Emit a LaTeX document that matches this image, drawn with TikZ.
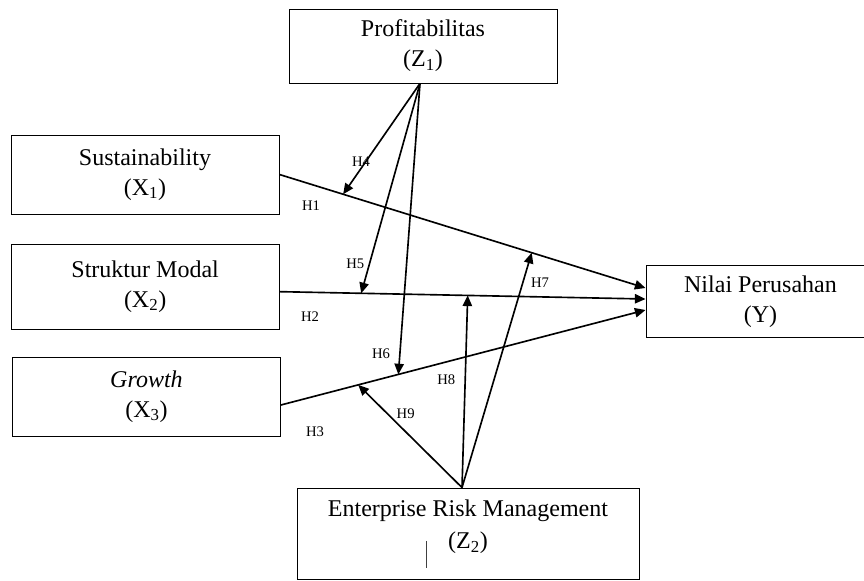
\documentclass[tikz,border=0pt]{standalone}
\usepackage{fontspec}
\setmainfont{Liberation Serif}
\usetikzlibrary{arrows.meta}

\begin{document}
\begin{tikzpicture}[
    box/.style={rectangle, draw, line width=0.75pt, align=center, inner sep=0pt, font=\fontsize{20.5}{25.5}\selectfont},
    hyp/.style={inner sep=0pt, font=\fontsize{12.5}{14}\selectfont},
    arr/.style={-{Triangle[length=3.2mm,width=2.8mm]}, line width=1.4pt}
  ]
  \useasboundingbox (0,0) rectangle (25.92,17.4);
  % Nodes
  \node[box, minimum width=8.04cm, minimum height=2.22cm] (z1) at (12.69,16.02) {Profitabilitas\\(Z\textsubscript{1})};
  \node[box, minimum width=8.04cm, minimum height=2.37cm] (x1) at (4.35,12.165) {Sustainability\\(X\textsubscript{1})};
  \node[box, minimum width=8.04cm, minimum height=2.55cm] (x2) at (4.355,8.805) {Struktur Modal\\(X\textsubscript{2})};
  \node[box, minimum width=8.04cm, minimum height=2.37cm] (x3) at (4.395,5.505) {\textit{Growth}\\(X\textsubscript{3})};
  \node[box, minimum width=6.87cm, minimum height=2.14cm] (y) at (22.815,8.36) {Nilai Perusahan\\(Y)};
  \node[box, minimum width=10.26cm, minimum height=2.745cm] (z2) at (14.04,1.3875) {};
  \node[align=center, inner sep=0pt, font=\fontsize{20.5}{27.2}\selectfont] (z2text) at ([yshift=0.2cm]z2.center) {Enterprise Risk Management\\(Z\textsubscript{2})};
  \draw[line width=0.6pt, black!75] ([xshift=-1.26cm,yshift=-0.21cm]z2.center) -- ++(0,-0.82);
  % Direct effects
  \draw[arr] (x1.east) -- coordinate[pos=0.174] (h4end) coordinate[pos=0.689] (h7end) ([yshift=0.4cm]y.west);
  \draw[arr] ([yshift=-0.155cm]x2.east) -- coordinate[pos=0.223] (h5end) coordinate[pos=0.514] (h8end) ([yshift=0.07cm]y.west);
  \draw[arr] ([yshift=-0.255cm]x3.east) -- coordinate[pos=0.212] (h9end) coordinate[pos=0.322] (h6end) ([yshift=-0.26cm]y.west);
  % Moderation
  \coordinate (z1foot) at ([xshift=-0.09cm]z1.south);
  \coordinate (z2foot) at ([xshift=-0.18cm]z2.north);
  \draw[arr] (z1foot) -- (h4end);
  \draw[arr] (z1foot) -- (h5end);
  \draw[arr] (z1foot) -- (h6end);
  \draw[arr] (z2foot) -- (h7end);
  \draw[arr] (z2foot) -- (h8end);
  \draw[arr] (z2foot) -- (h9end);
  % Labels
  \node[hyp] (h1) at (9.33,11.24) {H1};
  \node[hyp] (h2) at (9.30,7.90) {H2};
  \node[hyp] (h3) at (9.45,4.44) {H3};
  \node[hyp] (h4) at (10.83,12.55) {H4};
  \node[hyp] (h5) at (10.66,9.50) {H5};
  \node[hyp] (h6) at (11.43,6.80) {H6};
  \node[hyp] (h7) at (16.20,8.92) {H7};
  \node[hyp] (h8) at (13.39,6.00) {H8};
  \node[hyp] (h9) at (12.17,5.00) {H9};
\end{tikzpicture}
\end{document}
